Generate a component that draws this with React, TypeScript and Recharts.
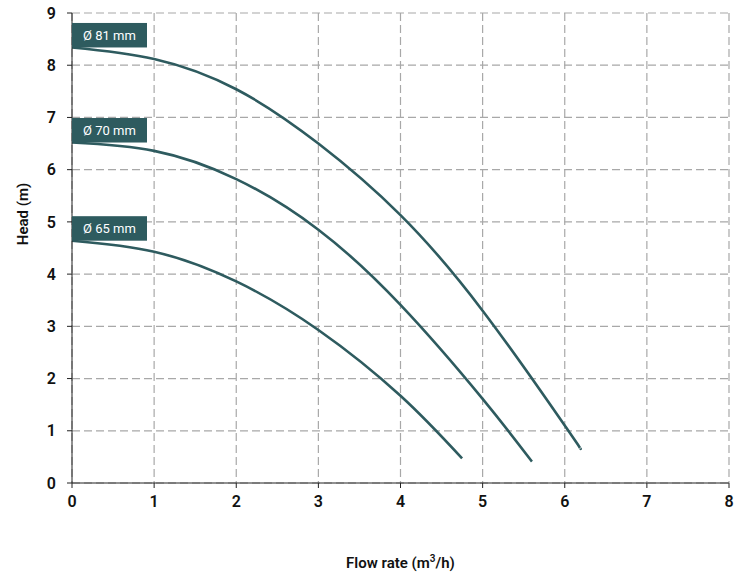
import React from "react";
import {
    LineChart,
    Line,
    XAxis,
    YAxis,
    CartesianGrid,
    LabelList,
    Label,
} from "recharts";

// flow rate (m3/h) -> head (m)
const curve81 = [
    { q: 0, h: 8.34 },
    { q: 1, h: 8.12 },
    { q: 2, h: 7.54 },
    { q: 3, h: 6.5 },
    { q: 4, h: 5.13 },
    { q: 5, h: 3.3 },
    { q: 6, h: 1.1 },
    { q: 6.19, h: 0.66 },
];

const curve70 = [
    { q: 0, h: 6.52 },
    { q: 1, h: 6.36 },
    { q: 2, h: 5.82 },
    { q: 3, h: 4.85 },
    { q: 4, h: 3.41 },
    { q: 5, h: 1.61 },
    { q: 5.6, h: 0.41 },
];

const curve65 = [
    { q: 0, h: 4.64 },
    { q: 1, h: 4.43 },
    { q: 2, h: 3.86 },
    { q: 3, h: 2.93 },
    { q: 4, h: 1.67 },
    { q: 4.75, h: 0.47 },
];

const series = [
    { name: "Ø 81 mm", data: curve81 },
    { name: "Ø 70 mm", data: curve70 },
    { name: "Ø 65 mm", data: curve65 },
];

const xTicks = [0, 1, 2, 3, 4, 5, 6, 7, 8];
const yTicks = [0, 1, 2, 3, 4, 5, 6, 7, 8, 9];

const teal = "#2e5b5f";
const font = "Roboto, sans-serif";

function tagFor(name: string) {
    return (props: any) => {
        const { x, y, index } = props;
        if (index !== 0) return null;
        return (
            <g>
                <rect x={x} y={y - 24.5} width={75} height={24.5} fill={teal} />
                <text
                    x={x + 37.5}
                    y={y - 12}
                    fill="#fff"
                    fontSize={13}
                    fontFamily={font}
                    textAnchor="middle"
                    dominantBaseline="central"
                >
                    {name}
                </text>
            </g>
        );
    };
}

function YTitle(props: any) {
    const { viewBox } = props;
    const cx = viewBox.x + 23;
    const cy = 214;
    return (
        <text
            x={cx}
            y={cy}
            transform={`rotate(-90 ${cx} ${cy})`}
            textAnchor="middle"
            dominantBaseline="central"
            fontSize={15}
            fontWeight={600}
            fontFamily={font}
            fill="#111"
        >
            Head (m)
        </text>
    );
}

function XTitle(props: any) {
    const { viewBox } = props;
    const cx = viewBox.x + viewBox.width / 2;
    return (
        <text
            x={cx}
            y={568}
            textAnchor="middle"
            fontSize={15}
            fontWeight={600}
            fontFamily={font}
            fill="#111"
        >
            Flow rate (m
            <tspan dy={-6} fontSize={10}>
                3
            </tspan>
            <tspan dy={6}>/h)</tspan>
        </text>
    );
}

export default function App() {
    return (
        <>
            <style>{"body{margin:0;overflow:hidden}"}</style>
            <LineChart
                width={734}
                height={575}
                margin={{ top: 13, right: 5, bottom: 62, left: 0 }}
            >
                <CartesianGrid
                    stroke="#a8a8a8"
                    strokeDasharray="8 4"
                    strokeWidth={1.2}
                />
                <XAxis
                    type="number"
                    dataKey="q"
                    domain={[0, 8]}
                    ticks={xTicks}
                    allowDuplicatedCategory={false}
                    height={30}
                    tickSize={5}
                    tickMargin={8}
                    stroke="#222"
                    tick={{ fill: "#111", fontSize: 16, fontWeight: 600, fontFamily: font }}
                >
                    <Label content={XTitle} />
                </XAxis>
                <YAxis
                    type="number"
                    dataKey="h"
                    domain={[0, 9]}
                    ticks={yTicks}
                    width={72}
                    tickSize={5}
                    tickMargin={11}
                    stroke="#222"
                    tick={{ fill: "#111", fontSize: 16, fontWeight: 600, fontFamily: font }}
                >
                    <Label content={YTitle} />
                </YAxis>
                {series.map((s) => (
                    <Line
                        key={s.name}
                        data={s.data}
                        dataKey="h"
                        type="natural"
                        stroke={teal}
                        strokeWidth={2.6}
                        dot={false}
                        isAnimationActive={false}
                    >
                        <LabelList dataKey="h" content={tagFor(s.name)} />
                    </Line>
                ))}
            </LineChart>
        </>
    );
}
